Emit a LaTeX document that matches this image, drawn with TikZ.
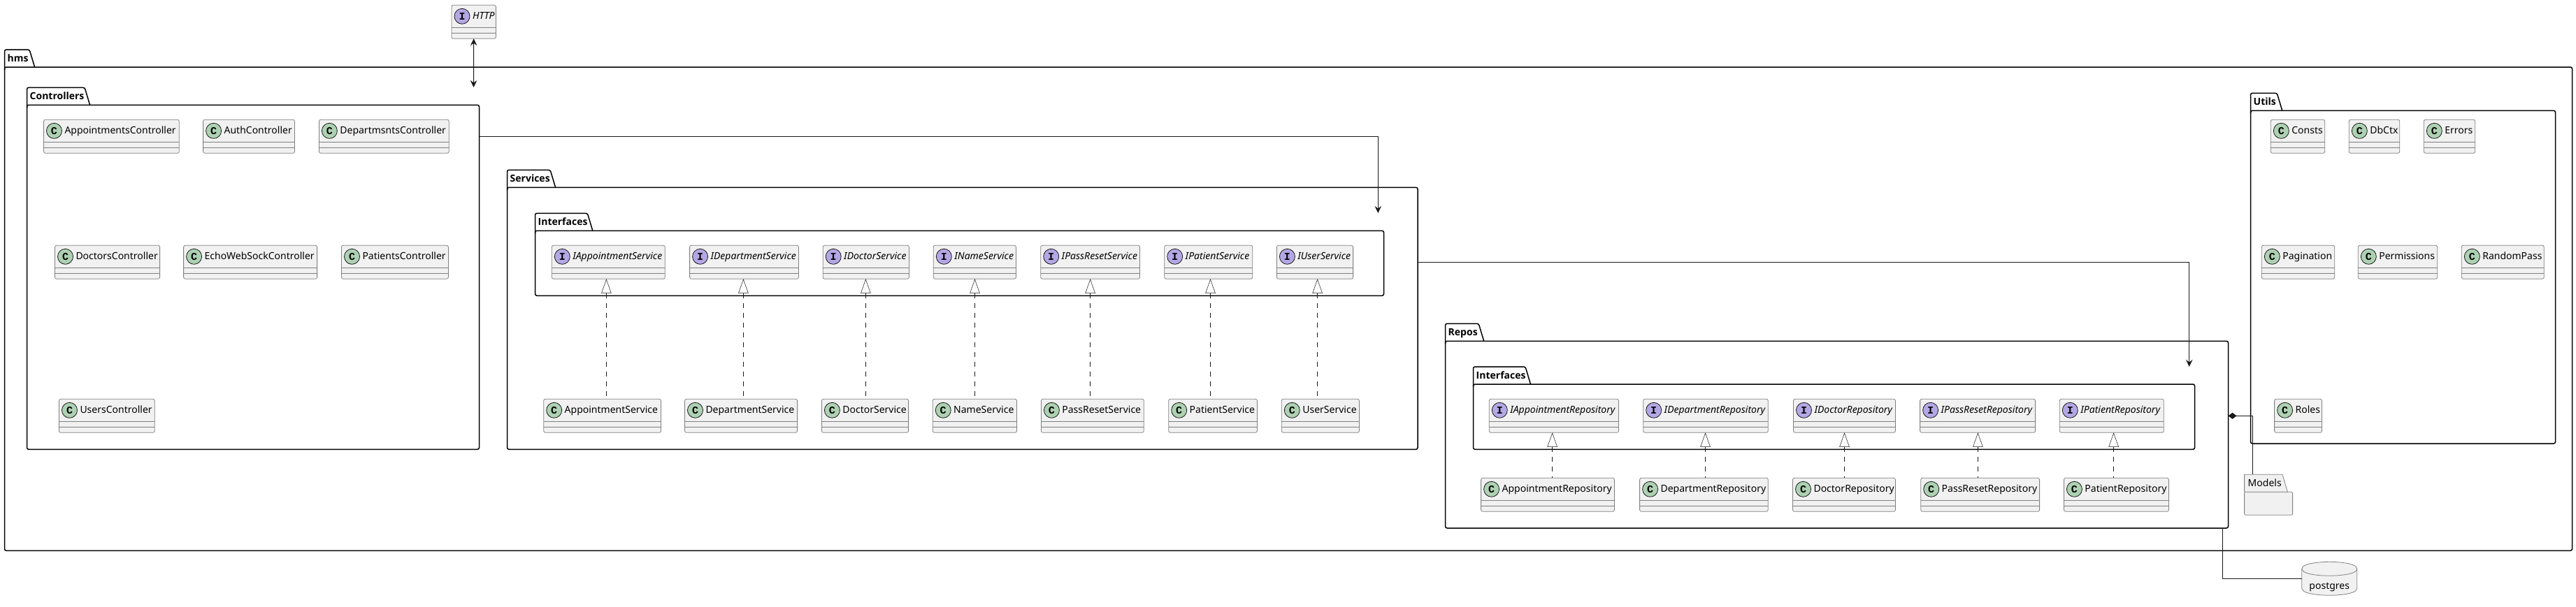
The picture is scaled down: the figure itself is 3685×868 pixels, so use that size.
\documentclass[tikz,border=0pt]{standalone}
\usepackage{fontspec}
\setmainfont{Noto Sans}
\newfontfamily\spotfont{Liberation Mono}
\newfontfamily\pkgfont{Open Sans}
\usetikzlibrary{calc,arrows.meta}
\definecolor{boxfill}{HTML}{F1F1F1}
\definecolor{boxline}{HTML}{181818}
\definecolor{boxedge}{HTML}{808080}
\definecolor{spotC}{HTML}{ADD1B2}
\definecolor{spotI}{HTML}{B4A7E5}
\tikzset{
    umlclass/.style = {
        draw=boxedge, fill=boxfill, rectangle, rounded corners=2.5pt,
        line width=.8pt,
        outer sep=0,
        inner xsep=0,
        inner ysep=3pt,
        text height=17.5pt,
        text depth=24.5pt,
        font=\fontsize{14}{16}\selectfont
    },
    spot/.style = {
        draw=boxline, circle, line width=.8pt,
        inner sep=0,
        minimum size=22pt,
        font=\spotfont\bfseries\fontsize{15}{15}\selectfont
    },
    pkgbody/.style = {
        draw=black, rectangle, rounded corners=2.5pt,
        line width=1.5pt,
        outer sep=0,
        inner sep=0
    },
    pkgtab/.style   = {draw=black, line width=1.5pt, rounded corners=2.5pt},
    pkgtitle/.style = {inner sep=0, font=\pkgfont\bfseries\fontsize{14}{16}\selectfont},
    dep/.style      = {draw=boxline, line width=1pt},
    realize/.style  = {draw=boxline, line width=.5pt, dash pattern=on 7pt off 7pt},
    open tip/.tip   = {Triangle[open,length=20.5pt,width=14.4pt,fill=white]},
    dep tip/.tip    = {Stealth[length=10pt,width=9.5pt,inset=3.5pt]}
}
% name, left, right, tab top, tab right, body top, bottom, title
\newcommand{\pkg}[8]{
  \node[pkgbody,minimum width={(#3-#2)*1pt},minimum height={(#7-#6)*1pt},anchor=north west] (#1) at (#2,#6) {};
  \draw[pkgtab] (#2,#6+4) -- (#2,#4) -- (#5-7.5,#4) -- (#5,#6);
  \node[pkgtitle,anchor=base west] (#1Tab) at (#2+4,#6-8) {#8};
}
% name, letter, spot colour, left, right, top, label
\newcommand{\umlbox}[7]{
  \pgfmathsetlengthmacro{\boxw}{(#5-#4)*1pt}
  \node[umlclass,minimum width=\boxw,anchor=north west] (#1) at (#4,#6) {\makebox[\boxw][l]{\hspace{30pt}#7}};
  \draw[draw=boxedge,line width=.8pt] ($(#1.north west)+(0,32)$) -- ($(#1.north east)+(0,32)$);
  \draw[draw=boxedge,line width=.8pt] ($(#1.north west)+(0,40)$) -- ($(#1.north east)+(0,40)$);
  \node[spot,fill=#3] (#1Spot) at ($(#1.north west)+(15,16)$) {#2};
}
\newcommand{\kls}[4]{\umlbox{#1}{C}{spotC}{#2}{#3}{#4}{#1}}
\newcommand{\ifc}[4]{\umlbox{#1}{I}{spotI}{#2}{#3}{#4}{\itshape #1}}
% upper box, lower box, x of the line
\newcommand{\realizes}[3]{\draw[realize,{open tip}-] (#3,0 |- #1.south) -- (#3,0 |- #2.north);}

\begin{document}
\begin{tikzpicture}[x=1pt,y=-1pt]
\useasboundingbox (0,0) rectangle (3685,868);

% 1. packages
\pkg{hms}{6.5}{3679.5}{71}{49.6}{96}{788.3}{hms}
\pkg{Controllers}{38.5}{685.5}{125.3}{128.6}{150.3}{643.3}{Controllers}
\pkg{Services}{725.5}{2028}{243.3}{794.6}{268.3}{643.3}{Services}
\pkg{SvcIfaces}{765.5}{1979.5}{305.3}{847.8}{330.3}{423.3}{Interfaces}
\pkg{Repos}{2067.5}{3187.5}{463.3}{2122.7}{488.3}{756}{Repos}
\pkg{RepoIfaces}{2107.5}{3139.5}{525}{2189.5}{550}{643.3}{Interfaces}
\pkg{Utils}{3219.5}{3655.5}{133.3}{3264.7}{158.3}{635}{Utils}

% 2. classes and interfaces
\ifc{HTTP}{646}{709.5}{7.3}
\foreach \n/\l/\r in {AppointmentsController/62.5/256.3, AuthController/290.6/421.5, DepartmsntsController/456.4/642.3}
  {\kls{\n}{\l}{\r}{171.3}}
\foreach \n/\l/\r in {DoctorsController/78.5/228.6, EchoWebSockController/262.6/453.6, PatientsController/488.5/641.4}
  {\kls{\n}{\l}{\r}{351.3}}
\kls{UsersController}{84.5}{221.3}{571.3}

\foreach \n/\l/\r in {IAppointmentService/789.3/951.3, IDepartmentService/986.6/1142.4, IDoctorService/1177.2/1300.4, INameService/1335.3/1453.5, IPassResetService/1488.7/1630.5, IPatientService/1665.7/1791.7, IUserService/1826.4/1935.6}
  {\ifc{\n}{\l}{\r}{351.3}}
\foreach \n/\l/\r in {AppointmentService/777.7/945.5, DepartmentService/979.5/1140.6, DoctorService/1175.4/1299.6, NameService/1334.2/1454.5, PassResetService/1489.4/1636.3, PatientService/1671.7/1798.4, UserService/1833.3/1944.4}
  {\kls{\n}{\l}{\r}{571.3}}

\foreach \n/\l/\r in {IAppointmentRepository/2130.3/2315.5, IDepartmentRepository/2350.7/2529.3, IDoctorRepository/2565.5/2711.4, IPassResetRepository/2746.6/2911.6, IPatientRepository/2946.3/3095.3}
  {\ifc{\n}{\l}{\r}{571.3}}
\foreach \n/\l/\r in {AppointmentRepository/2118.6/2309.4, DepartmentRepository/2345.6/2529.3, DoctorRepository/2564.5/2711.4, PassResetRepository/2747.7/2917.6, PatientRepository/2952.4/3102.5}
  {\kls{\n}{\l}{\r}{684.3}}

\foreach \n/\l/\r in {Consts/3248.3/3325.7, DbCtx/3360.3/3432.7, Errors/3467.3/3540.7}
  {\kls{\n}{\l}{\r}{171.3}}
\foreach \n/\l/\r in {Pagination/3235.3/3339.7, Permissions/3373.3/3486.7, RandomPass/3521.3/3639.3}
  {\kls{\n}{\l}{\r}{351.3}}
\kls{Roles}{3253.6}{3321.5}{571.3}

% 3. models and database
\node[draw=boxedge,fill=boxfill,rectangle,rounded corners=2pt,line width=.8pt,minimum width=69pt,minimum height=33pt,inner sep=0,outer sep=0,anchor=north west] (Models) at (3210.6,704.3) {};
\draw[draw=boxedge,fill=boxfill,line width=.8pt] (3210.6,704.3) -- (3210.6,679.3) -- (3265,679.3) -- (3272.4,704.3) -- cycle;
\node[inner sep=0,font=\fontsize{14}{16}\selectfont,anchor=base west] (ModelsTab) at (3215.5,696) {Models};
\draw[draw=boxedge,fill=boxfill,line width=.8pt] (3292.8,814.3) .. controls (3292.8,804.3) and (3332.2,804.3) .. (3332.2,804.3) .. controls (3332.2,804.3) and (3371.7,804.3) .. (3371.7,814.3) -- (3371.7,842.3) .. controls (3371.7,852.3) and (3332.2,852.3) .. (3332.2,852.3) .. controls (3332.2,852.3) and (3292.8,852.3) .. (3292.8,842.3) -- cycle;
\draw[draw=boxedge,line width=.8pt] (3292.8,814.3) .. controls (3292.8,824.3) and (3332.2,824.3) .. (3332.2,824.3) .. controls (3332.2,824.3) and (3371.7,824.3) .. (3371.7,814.3);
\node[minimum width=79pt,inner sep=0,outer sep=0,text height=38.7pt,text depth=9.3pt,font=\fontsize{14}{16}\selectfont] (postgres) at (3332.2,828.3) {postgres};

% 4. free ends of the connectors
\coordinate (ctrlIn) at (677.5,125);
\coordinate (ctrlOut) at (685.5,195.5);
\coordinate (svcIn) at (1971.3,305);
\coordinate (svcOut) at (2028,375.7);
\coordinate (repoIn) at (3131.7,525);
\coordinate (repoUse) at (3187.5,595.3);
\coordinate (modelsIn) at (3222.7,679.3);
\coordinate (repoDb) at (3179.7,756);

% 5. arrows
\draw [dep,{dep tip}-{dep tip}] (HTTP) -- (ctrlIn);
\draw [dep,-{dep tip}] (ctrlOut) -| (svcIn);
\draw [dep,-{dep tip}] (svcOut) -| (repoIn);
\draw [dep,{Diamond[length=12pt,width=9pt]}-] (repoUse) -| (modelsIn);
\draw [dep] (repoDb) |- (postgres);

\foreach \a/\b/\x in {IAppointmentService/AppointmentService/867.4, IDepartmentService/DepartmentService/1063.4, IDoctorService/DoctorService/1238.4, INameService/NameService/1394.5, IPassResetService/PassResetService/1559.6, IPatientService/PatientService/1731.5, IUserService/UserService/1884.6, IAppointmentRepository/AppointmentRepository/2220.6, IDepartmentRepository/DepartmentRepository/2439.5, IDoctorRepository/DoctorRepository/2638.5, IPassResetRepository/PassResetRepository/2829.4, IPatientRepository/PatientRepository/3023.6}
  {\realizes{\a}{\b}{\x}}

\end{tikzpicture}
\end{document}
